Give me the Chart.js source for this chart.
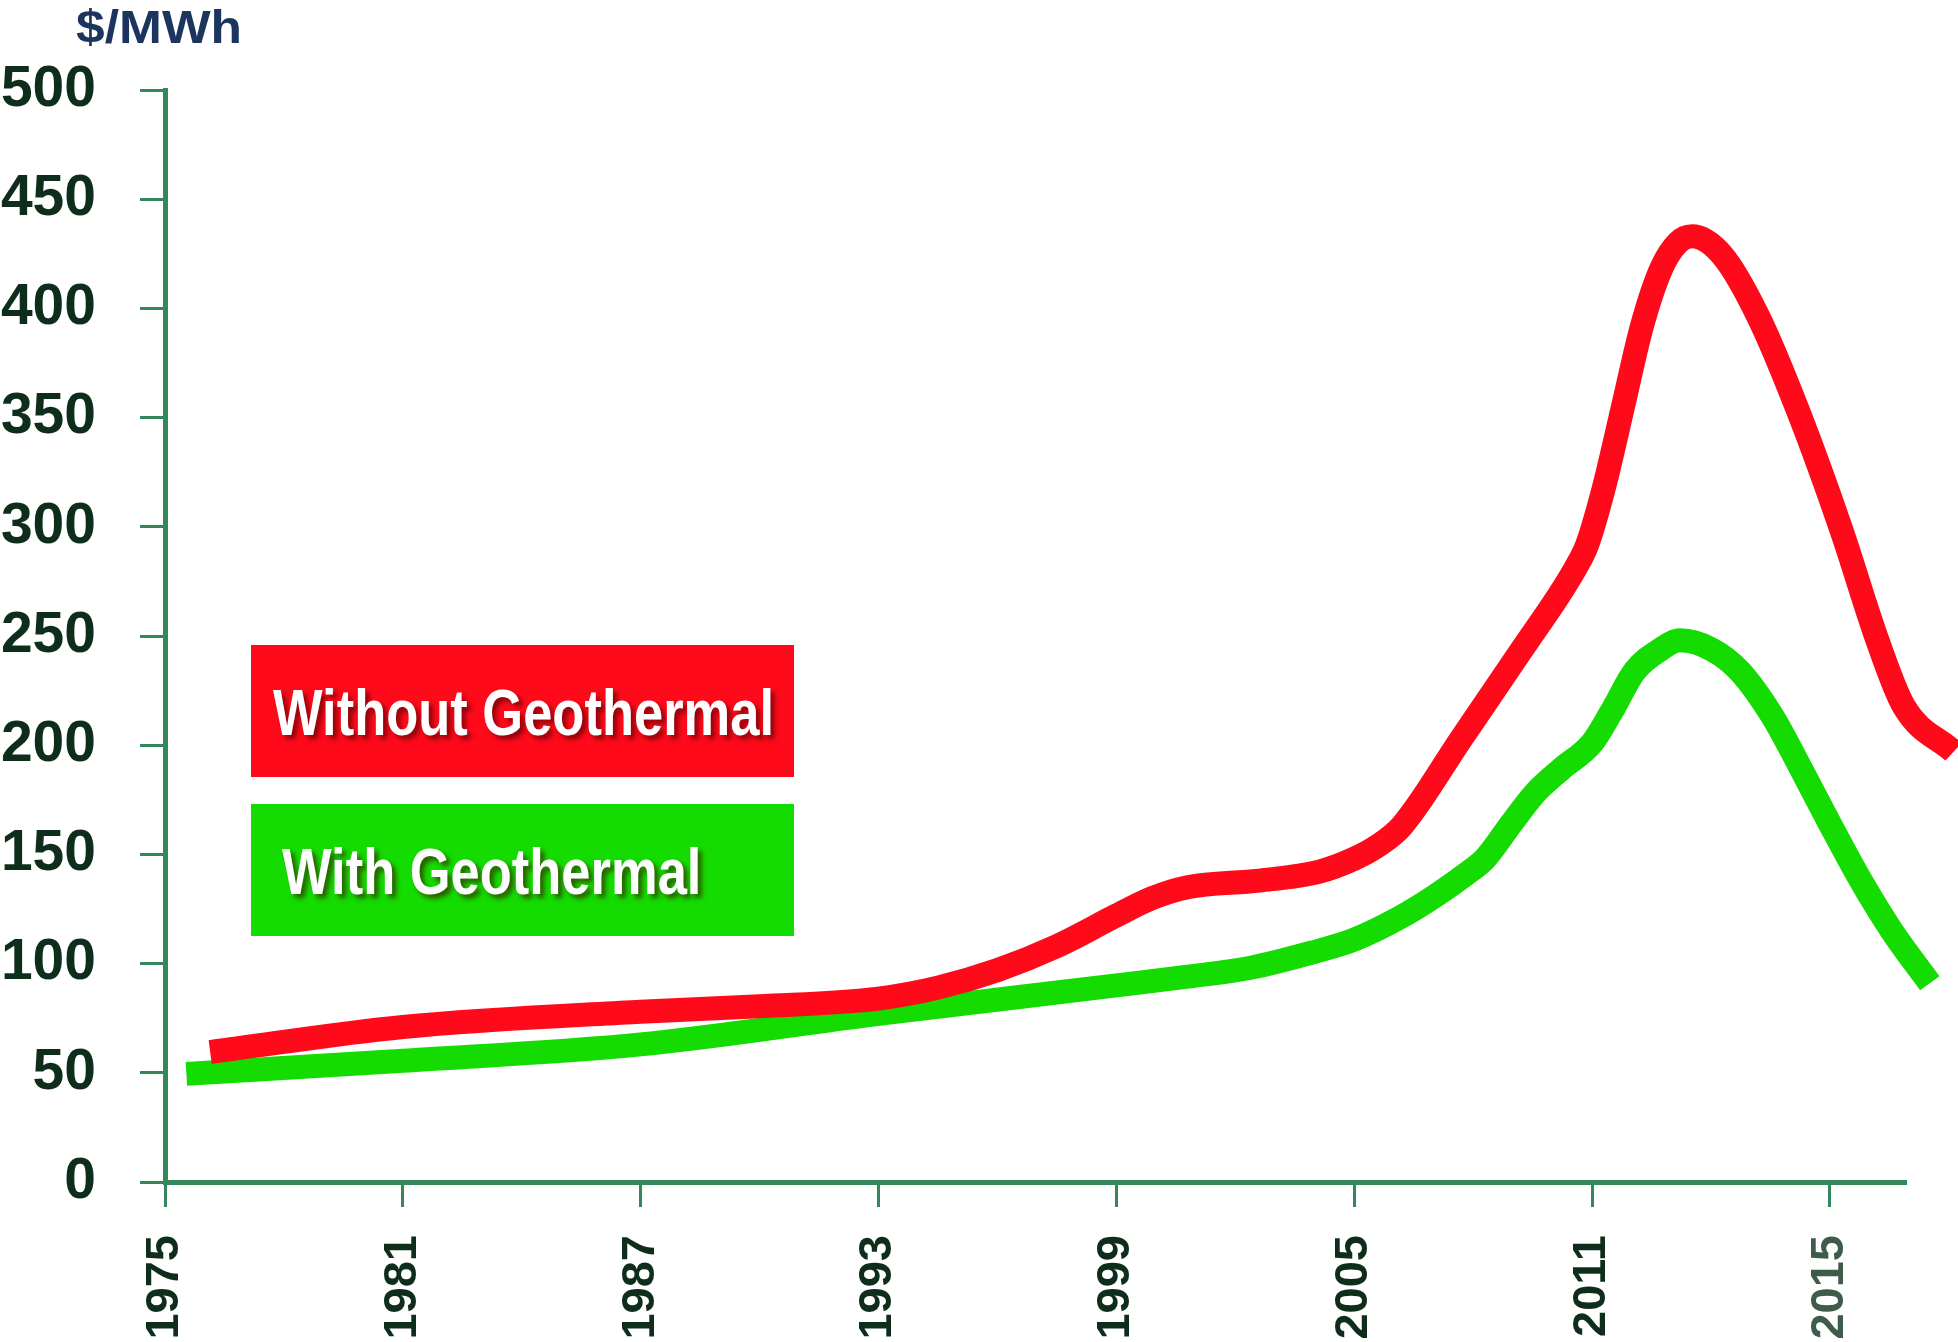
<!DOCTYPE html>
<html>
<head>
<meta charset="utf-8">
<script src="https://cdn.jsdelivr.net/npm/chart.js@4.4.1/dist/chart.umd.min.js"></script>
<style>
  html, body { margin: 0; padding: 0; background: #fff; }
  #wrap { width: 1958px; height: 1342px; }
</style>
</head>
<body>
<div id="wrap"><canvas id="priceChart" width="1958" height="1342"></canvas></div>
<script>
// x positions are in "tick slots" (0 = 1975 tick, 1 = 1981 tick, ...)
const xLabels = ['1975', '1981', '1987', '1993', '1999', '2005', '2011', '2015'];
const yTickLabels = [0, 50, 100, 150, 200, 250, 300, 350, 400, 450, 500];
const unitLabel = '$/MWh';
const seriesNames = ['Without Geothermal', 'With Geothermal'];
const seriesColors = ['#ff0a1a', '#14dc00'];

const withoutX = [0.19, 1.0, 2.0, 2.5, 3.0, 3.25, 3.5, 3.75, 4.0, 4.15, 4.3, 4.6, 4.85, 5.0, 5.1, 5.2, 5.45, 5.7, 5.93, 5.98, 6.05, 6.13, 6.21, 6.29, 6.36, 6.42, 6.55, 6.7, 6.87, 7.05, 7.2, 7.31, 7.52];
const withoutY = [59.5, 71, 78, 80.5, 84, 89, 97, 108, 122, 130, 135, 138, 142, 148, 154, 163, 203, 243, 281, 292, 318, 355, 392, 418, 430, 433, 424, 396, 352, 298, 248, 218, 197];

const withX = [0.09, 1.0, 2.0, 3.0, 4.0, 4.3, 4.56, 4.82, 5.0, 5.19, 5.34, 5.47, 5.55, 5.66, 5.76, 5.87, 6.0, 6.08, 6.18, 6.29, 6.37, 6.5, 6.62, 6.76, 6.87, 7.0, 7.13, 7.26, 7.42];
const withY = [49.5, 55.5, 63, 77, 90, 94, 98, 105, 111, 121, 131, 141, 148, 164, 178, 189, 201, 215, 234, 244, 248, 244, 234, 213, 191, 164, 138, 115, 91];

const axisColor = '#33875a';
const tickText = '#0e2e1b';
const fontFamily = '"Liberation Sans", Arial, sans-serif';

const overlay = {
  id: 'overlay',
  afterDraw(chart) {
    const ctx = chart.ctx;
    ctx.save();
    ctx.fillStyle = '#1b355f';
    ctx.font = `bold 46px ${fontFamily}`;
    ctx.textBaseline = 'alphabetic';
    ctx.translate(76, 43);
    ctx.scale(1.12, 1);
    ctx.fillText(unitLabel, 0, 0);
    ctx.restore();

    const boxes = [{ top: 645, tx: 273 }, { top: 804, tx: 282 }];
    chart.data.datasets.forEach((ds, i) => {
      const b = boxes[i];
      ctx.save();
      ctx.fillStyle = ds.borderColor;
      ctx.fillRect(251, b.top, 543, 132);
      ctx.font = `bold 64px ${fontFamily}`;
      ctx.textBaseline = 'alphabetic';
      ctx.shadowColor = 'rgba(60,0,0,0.6)';
      ctx.shadowOffsetX = 4;
      ctx.shadowOffsetY = 4;
      ctx.shadowBlur = 5;
      ctx.translate(b.tx, b.top + 90);
      ctx.scale(0.82, 1);
      ctx.fillStyle = '#ffffff';
      ctx.fillText(ds.label, 0, 0);
      ctx.restore();
    });
  }
};

new Chart(document.getElementById('priceChart'), {
  type: 'line',
  data: {
    datasets: [
      {
        label: seriesNames[0],
        data: withoutX.map((x, i) => ({ x, y: withoutY[i] })),
        borderColor: seriesColors[0],
        borderWidth: 24,
        pointRadius: 0,
        cubicInterpolationMode: 'monotone',
        clip: false,
        fill: false
      },
      {
        label: seriesNames[1],
        data: withX.map((x, i) => ({ x, y: withY[i] })),
        borderColor: seriesColors[1],
        borderWidth: 24,
        pointRadius: 0,
        cubicInterpolationMode: 'monotone',
        clip: false,
        fill: false
      }
    ]
  },
  options: {
    responsive: false,
    animation: false,
    devicePixelRatio: 1,
    layout: { padding: { left: 0, top: 90, right: 52, bottom: 0 } },
    plugins: { legend: { display: false }, tooltip: { enabled: false } },
    scales: {
      x: {
        type: 'linear',
        min: 0,
        max: 7.32,
        afterFit(scale) { scale.height = 160; },
        border: { display: true, color: axisColor, width: 5 },
        grid: { display: true, drawOnChartArea: false, drawTicks: true, tickLength: 25, tickWidth: 3, tickColor: axisColor },
        ticks: {
          stepSize: 1,
          includeBounds: false,
          autoSkip: false,
          minRotation: 90,
          maxRotation: 90,
          padding: 28,
          font: { family: fontFamily, weight: 'bold', size: 47 },
          color: (c) => (c.index === xLabels.length - 1 ? '#3f5b49' : tickText),
          callback: (v) => (Number.isInteger(v) && xLabels[v] !== undefined ? xLabels[v] : '')
        }
      },
      y: {
        min: 0,
        max: 500,
        afterFit(scale) { scale.width = 165; },
        border: { display: true, color: axisColor, width: 5 },
        grid: { display: true, drawOnChartArea: false, drawTicks: true, tickLength: 25, tickWidth: 3, tickColor: axisColor },
        ticks: {
          stepSize: 50,
          padding: 44,
          font: { family: fontFamily, weight: 'bold', size: 57 },
          color: tickText,
          callback: (v) => (yTickLabels.includes(v) ? String(v) : '')
        }
      }
    }
  },
  plugins: [overlay]
});
</script>
</body>
</html>
